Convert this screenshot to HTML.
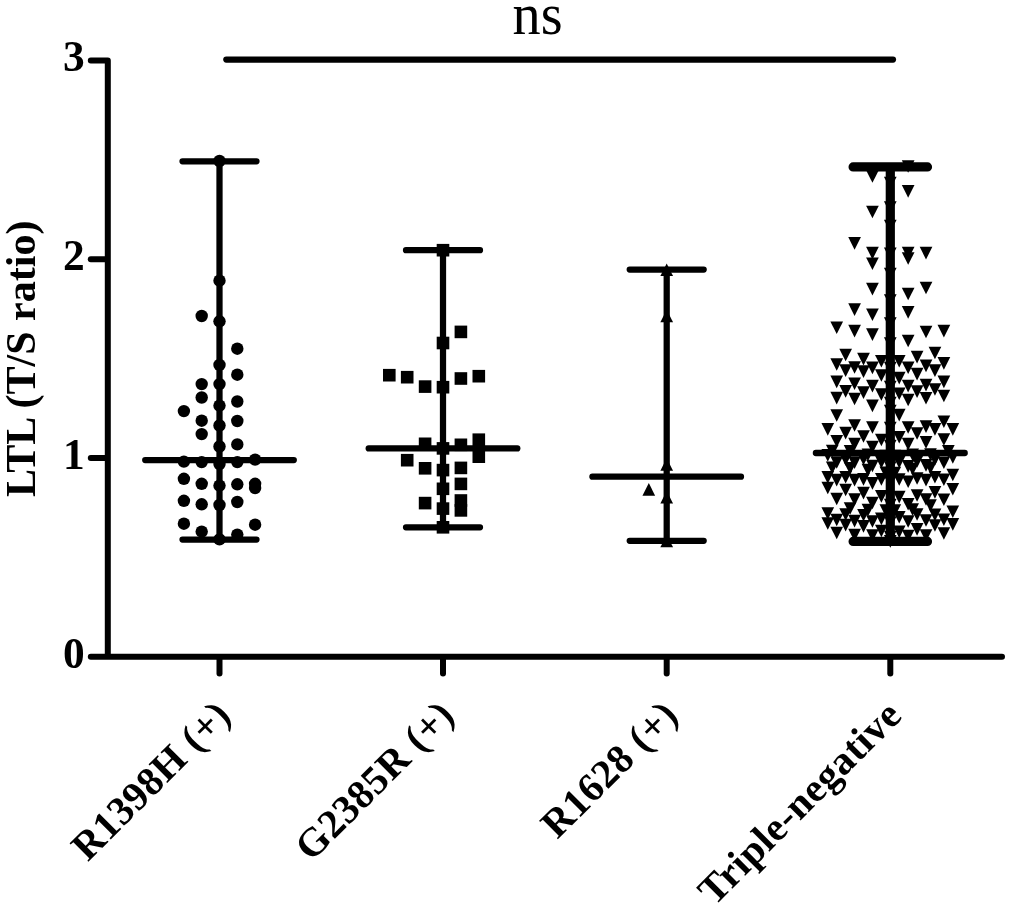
<!DOCTYPE html>
<html lang="en"><head><meta charset="utf-8"><title>LTL (T/S ratio)</title>
<style>html,body{margin:0;padding:0;background:#fff}body{width:1013px;height:911px;overflow:hidden}svg{display:block}text{font-family:"Liberation Serif","Times New Roman",serif;fill:#000}.b{font-weight:bold}</style></head><body>
<svg width="1013" height="911" viewBox="0 0 1013 911">
<rect width="1013" height="911" fill="#fff"/>
<g fill="none" stroke="#000" stroke-width="6" stroke-linecap="round" stroke-linejoin="round">
<path d="M90.8 60.45 H107.8 V654.8"/>
<path d="M90.8 656.8 H1002"/>
<path d="M90.8 458.0 H106"/>
<path d="M90.8 259.2 H106"/>
<path d="M219.5 657.8 V673.5"/>
<path d="M443.0 657.8 V673.5"/>
<path d="M666.7 657.8 V673.5"/>
<path d="M890.3 657.8 V673.5"/>
<path d="M226.3 59.6 H893" stroke-width="6.2"/>
</g>
<g fill="none" stroke="#000" stroke-linecap="round">
<path d="M219.5 161.3 V539.5" stroke-width="6.25" stroke-linecap="butt"/>
<path d="M182.5 161.3 H256.5 M182.5 539.5 H256.5" stroke-width="6.25"/>
<path d="M145.2 460.1 H293.8" stroke-width="6.25"/>
</g>
<g fill="none" stroke="#000" stroke-linecap="round">
<path d="M443.0 250.2 V527.3" stroke-width="6.25" stroke-linecap="butt"/>
<path d="M406.0 250.2 H480.0 M406.0 527.3 H480.0" stroke-width="6.25"/>
<path d="M368.7 448.4 H517.3" stroke-width="6.25"/>
</g>
<g fill="none" stroke="#000" stroke-linecap="round">
<path d="M666.7 269.6 V540.8" stroke-width="6.25" stroke-linecap="butt"/>
<path d="M629.7 269.6 H703.7 M629.7 540.8 H703.7" stroke-width="6.25"/>
<path d="M592.4 476.7 H741.0" stroke-width="6.25"/>
</g>
<g fill="none" stroke="#000" stroke-linecap="round">
<path d="M890.3 166.9 V541.4" stroke-width="9.2" stroke-linecap="butt"/>
<path d="M853.1 166.9 H927.5 M853.1 541.4 H927.5" stroke-width="9.2"/>
<path d="M815.9 453 H964.7" stroke-width="6.3"/>
</g>
<g fill="#000">
<circle cx="219.5" cy="161.0" r="6.2"/>
<circle cx="219.5" cy="280.7" r="6.2"/>
<circle cx="219.5" cy="321.3" r="6.2"/>
<circle cx="219.5" cy="364.9" r="6.2"/>
<circle cx="219.5" cy="384.1" r="6.2"/>
<circle cx="219.5" cy="405.6" r="6.2"/>
<circle cx="219.5" cy="425.5" r="6.2"/>
<circle cx="219.5" cy="446.5" r="6.2"/>
<circle cx="219.5" cy="464.1" r="6.2"/>
<circle cx="219.5" cy="485.6" r="6.2"/>
<circle cx="219.5" cy="505.0" r="6.2"/>
<circle cx="219.5" cy="539.4" r="6.2"/>
<circle cx="237.3" cy="348.7" r="6.2"/>
<circle cx="237.3" cy="374.7" r="6.2"/>
<circle cx="237.3" cy="401.5" r="6.2"/>
<circle cx="237.3" cy="421.0" r="6.2"/>
<circle cx="237.3" cy="444.4" r="6.2"/>
<circle cx="237.3" cy="462.1" r="6.2"/>
<circle cx="237.3" cy="484.3" r="6.2"/>
<circle cx="237.3" cy="502.0" r="6.2"/>
<circle cx="237.3" cy="534.6" r="6.2"/>
<circle cx="201.7" cy="316.0" r="6.2"/>
<circle cx="201.7" cy="384.1" r="6.2"/>
<circle cx="201.7" cy="397.5" r="6.2"/>
<circle cx="201.7" cy="420.7" r="6.2"/>
<circle cx="201.7" cy="434.1" r="6.2"/>
<circle cx="201.7" cy="462.1" r="6.2"/>
<circle cx="201.7" cy="483.8" r="6.2"/>
<circle cx="201.7" cy="504.3" r="6.2"/>
<circle cx="201.7" cy="531.6" r="6.2"/>
<circle cx="183.9" cy="411.1" r="6.2"/>
<circle cx="183.9" cy="461.6" r="6.2"/>
<circle cx="183.9" cy="478.8" r="6.2"/>
<circle cx="183.9" cy="500.8" r="6.2"/>
<circle cx="183.9" cy="523.7" r="6.2"/>
<circle cx="255.1" cy="459.6" r="6.2"/>
<circle cx="255.1" cy="483.8" r="6.2"/>
<circle cx="255.1" cy="488.1" r="6.2"/>
<circle cx="255.1" cy="524.7" r="6.2"/>
<rect x="436.7" y="243.9" width="12.6" height="12.6"/>
<rect x="454.6" y="325.6" width="12.6" height="12.6"/>
<rect x="436.7" y="336.7" width="12.6" height="12.6"/>
<rect x="383.0" y="368.9" width="12.6" height="12.6"/>
<rect x="400.9" y="370.9" width="12.6" height="12.6"/>
<rect x="418.8" y="380.3" width="12.6" height="12.6"/>
<rect x="436.7" y="380.9" width="12.6" height="12.6"/>
<rect x="454.6" y="372.2" width="12.6" height="12.6"/>
<rect x="472.5" y="369.9" width="12.6" height="12.6"/>
<rect x="418.8" y="437.5" width="12.6" height="12.6"/>
<rect x="436.7" y="442.1" width="12.6" height="12.6"/>
<rect x="454.6" y="438.5" width="12.6" height="12.6"/>
<rect x="472.5" y="433.4" width="12.6" height="12.6"/>
<rect x="472.5" y="450.4" width="12.6" height="12.6"/>
<rect x="400.9" y="453.9" width="12.6" height="12.6"/>
<rect x="418.8" y="462.0" width="12.6" height="12.6"/>
<rect x="436.7" y="463.8" width="12.6" height="12.6"/>
<rect x="454.6" y="461.6" width="12.6" height="12.6"/>
<rect x="436.7" y="482.5" width="12.6" height="12.6"/>
<rect x="454.6" y="477.6" width="12.6" height="12.6"/>
<rect x="418.8" y="496.8" width="12.6" height="12.6"/>
<rect x="436.7" y="502.3" width="12.6" height="12.6"/>
<rect x="454.6" y="494.2" width="12.6" height="12.6"/>
<rect x="454.6" y="504.1" width="12.6" height="12.6"/>
<rect x="436.7" y="521.0" width="12.6" height="12.6"/>
<path d="M666.7 263.5 l6.35 12.6 h-12.7 z"/>
<path d="M666.7 309.7 l6.35 12.6 h-12.7 z"/>
<path d="M666.7 458.2 l6.35 12.6 h-12.7 z"/>
<path d="M648.8 483.1 l6.35 12.6 h-12.7 z"/>
<path d="M666.7 491.0 l6.35 12.6 h-12.7 z"/>
<path d="M666.7 534.7 l6.35 12.6 h-12.7 z"/>
<path d="M901.81 160.25 h12.7 l-6.35 12.6 z"/>
<path d="M866.09 170.25 h12.7 l-6.35 12.6 z"/>
<path d="M883.95 176.75 h12.7 l-6.35 12.6 z"/>
<path d="M901.81 185.05 h12.7 l-6.35 12.6 z"/>
<path d="M883.95 201.35 h12.7 l-6.35 12.6 z"/>
<path d="M866.09 205.75 h12.7 l-6.35 12.6 z"/>
<path d="M883.95 219.75 h12.7 l-6.35 12.6 z"/>
<path d="M848.23 237.05 h12.7 l-6.35 12.6 z"/>
<path d="M866.09 246.85 h12.7 l-6.35 12.6 z"/>
<path d="M866.09 257.45 h12.7 l-6.35 12.6 z"/>
<path d="M901.81 246.85 h12.7 l-6.35 12.6 z"/>
<path d="M901.81 252.25 h12.7 l-6.35 12.6 z"/>
<path d="M919.67 246.85 h12.7 l-6.35 12.6 z"/>
<path d="M883.95 247.55 h12.7 l-6.35 12.6 z"/>
<path d="M883.95 267.75 h12.7 l-6.35 12.6 z"/>
<path d="M866.09 282.85 h12.7 l-6.35 12.6 z"/>
<path d="M919.67 281.75 h12.7 l-6.35 12.6 z"/>
<path d="M901.81 287.65 h12.7 l-6.35 12.6 z"/>
<path d="M883.95 294.25 h12.7 l-6.35 12.6 z"/>
<path d="M848.23 303.35 h12.7 l-6.35 12.6 z"/>
<path d="M866.09 308.45 h12.7 l-6.35 12.6 z"/>
<path d="M901.81 306.05 h12.7 l-6.35 12.6 z"/>
<path d="M883.95 317.15 h12.7 l-6.35 12.6 z"/>
<path d="M830.37 321.45 h12.7 l-6.35 12.6 z"/>
<path d="M848.23 324.85 h12.7 l-6.35 12.6 z"/>
<path d="M866.09 328.35 h12.7 l-6.35 12.6 z"/>
<path d="M919.67 325.65 h12.7 l-6.35 12.6 z"/>
<path d="M937.53 324.85 h12.7 l-6.35 12.6 z"/>
<path d="M901.81 334.65 h12.7 l-6.35 12.6 z"/>
<path d="M883.95 337.35 h12.7 l-6.35 12.6 z"/>
<path d="M839.30 348.75 h12.7 l-6.35 12.6 z"/>
<path d="M857.16 352.85 h12.7 l-6.35 12.6 z"/>
<path d="M875.02 354.95 h12.7 l-6.35 12.6 z"/>
<path d="M892.88 354.95 h12.7 l-6.35 12.6 z"/>
<path d="M910.74 350.85 h12.7 l-6.35 12.6 z"/>
<path d="M928.60 346.65 h12.7 l-6.35 12.6 z"/>
<path d="M830.37 358.15 h12.7 l-6.35 12.6 z"/>
<path d="M937.53 357.05 h12.7 l-6.35 12.6 z"/>
<path d="M848.23 361.15 h12.7 l-6.35 12.6 z"/>
<path d="M866.09 361.55 h12.7 l-6.35 12.6 z"/>
<path d="M901.81 361.45 h12.7 l-6.35 12.6 z"/>
<path d="M919.67 359.55 h12.7 l-6.35 12.6 z"/>
<path d="M883.95 361.75 h12.7 l-6.35 12.6 z"/>
<path d="M839.30 364.35 h12.7 l-6.35 12.6 z"/>
<path d="M928.60 364.35 h12.7 l-6.35 12.6 z"/>
<path d="M857.16 365.35 h12.7 l-6.35 12.6 z"/>
<path d="M910.74 367.85 h12.7 l-6.35 12.6 z"/>
<path d="M875.02 369.15 h12.7 l-6.35 12.6 z"/>
<path d="M892.88 371.85 h12.7 l-6.35 12.6 z"/>
<path d="M830.37 375.55 h12.7 l-6.35 12.6 z"/>
<path d="M937.53 375.55 h12.7 l-6.35 12.6 z"/>
<path d="M848.23 377.45 h12.7 l-6.35 12.6 z"/>
<path d="M919.67 378.85 h12.7 l-6.35 12.6 z"/>
<path d="M866.09 379.85 h12.7 l-6.35 12.6 z"/>
<path d="M901.81 379.85 h12.7 l-6.35 12.6 z"/>
<path d="M883.95 380.75 h12.7 l-6.35 12.6 z"/>
<path d="M928.60 383.25 h12.7 l-6.35 12.6 z"/>
<path d="M839.30 385.05 h12.7 l-6.35 12.6 z"/>
<path d="M910.74 385.35 h12.7 l-6.35 12.6 z"/>
<path d="M857.16 386.35 h12.7 l-6.35 12.6 z"/>
<path d="M892.88 387.45 h12.7 l-6.35 12.6 z"/>
<path d="M875.02 388.15 h12.7 l-6.35 12.6 z"/>
<path d="M937.53 389.75 h12.7 l-6.35 12.6 z"/>
<path d="M830.37 391.85 h12.7 l-6.35 12.6 z"/>
<path d="M919.67 391.95 h12.7 l-6.35 12.6 z"/>
<path d="M848.23 392.65 h12.7 l-6.35 12.6 z"/>
<path d="M901.81 393.65 h12.7 l-6.35 12.6 z"/>
<path d="M866.09 399.55 h12.7 l-6.35 12.6 z"/>
<path d="M883.95 396.75 h12.7 l-6.35 12.6 z"/>
<path d="M892.88 408.85 h12.7 l-6.35 12.6 z"/>
<path d="M830.37 409.15 h12.7 l-6.35 12.6 z"/>
<path d="M883.95 404.75 h12.7 l-6.35 12.6 z"/>
<path d="M937.53 415.45 h12.7 l-6.35 12.6 z"/>
<path d="M848.23 419.25 h12.7 l-6.35 12.6 z"/>
<path d="M919.67 420.35 h12.7 l-6.35 12.6 z"/>
<path d="M866.09 421.25 h12.7 l-6.35 12.6 z"/>
<path d="M901.81 421.25 h12.7 l-6.35 12.6 z"/>
<path d="M883.95 421.75 h12.7 l-6.35 12.6 z"/>
<path d="M821.44 423.05 h12.7 l-6.35 12.6 z"/>
<path d="M946.46 423.05 h12.7 l-6.35 12.6 z"/>
<path d="M928.60 423.05 h12.7 l-6.35 12.6 z"/>
<path d="M839.30 426.85 h12.7 l-6.35 12.6 z"/>
<path d="M910.74 427.25 h12.7 l-6.35 12.6 z"/>
<path d="M857.16 430.25 h12.7 l-6.35 12.6 z"/>
<path d="M892.88 430.95 h12.7 l-6.35 12.6 z"/>
<path d="M875.02 433.75 h12.7 l-6.35 12.6 z"/>
<path d="M830.37 434.95 h12.7 l-6.35 12.6 z"/>
<path d="M937.53 433.25 h12.7 l-6.35 12.6 z"/>
<path d="M919.67 436.05 h12.7 l-6.35 12.6 z"/>
<path d="M848.23 437.85 h12.7 l-6.35 12.6 z"/>
<path d="M901.81 437.85 h12.7 l-6.35 12.6 z"/>
<path d="M866.09 440.85 h12.7 l-6.35 12.6 z"/>
<path d="M883.95 439.75 h12.7 l-6.35 12.6 z"/>
<path d="M825.90 444.65 h12.7 l-6.35 12.6 z"/>
<path d="M843.76 445.05 h12.7 l-6.35 12.6 z"/>
<path d="M861.62 448.55 h12.7 l-6.35 12.6 z"/>
<path d="M879.48 449.75 h12.7 l-6.35 12.6 z"/>
<path d="M941.99 445.05 h12.7 l-6.35 12.6 z"/>
<path d="M924.13 448.15 h12.7 l-6.35 12.6 z"/>
<path d="M906.27 448.55 h12.7 l-6.35 12.6 z"/>
<path d="M888.41 449.75 h12.7 l-6.35 12.6 z"/>
<path d="M821.44 449.05 h12.7 l-6.35 12.6 z"/>
<path d="M839.30 453.15 h12.7 l-6.35 12.6 z"/>
<path d="M857.16 452.75 h12.7 l-6.35 12.6 z"/>
<path d="M875.02 455.85 h12.7 l-6.35 12.6 z"/>
<path d="M892.88 455.85 h12.7 l-6.35 12.6 z"/>
<path d="M910.74 455.25 h12.7 l-6.35 12.6 z"/>
<path d="M928.60 453.25 h12.7 l-6.35 12.6 z"/>
<path d="M946.46 451.05 h12.7 l-6.35 12.6 z"/>
<path d="M830.37 456.25 h12.7 l-6.35 12.6 z"/>
<path d="M848.23 456.35 h12.7 l-6.35 12.6 z"/>
<path d="M866.09 459.65 h12.7 l-6.35 12.6 z"/>
<path d="M883.95 461.25 h12.7 l-6.35 12.6 z"/>
<path d="M901.81 460.05 h12.7 l-6.35 12.6 z"/>
<path d="M919.67 459.05 h12.7 l-6.35 12.6 z"/>
<path d="M937.53 456.45 h12.7 l-6.35 12.6 z"/>
<path d="M825.90 461.45 h12.7 l-6.35 12.6 z"/>
<path d="M843.76 461.95 h12.7 l-6.35 12.6 z"/>
<path d="M861.62 463.85 h12.7 l-6.35 12.6 z"/>
<path d="M879.48 466.45 h12.7 l-6.35 12.6 z"/>
<path d="M888.41 466.75 h12.7 l-6.35 12.6 z"/>
<path d="M906.27 462.75 h12.7 l-6.35 12.6 z"/>
<path d="M924.13 461.55 h12.7 l-6.35 12.6 z"/>
<path d="M821.44 471.05 h12.7 l-6.35 12.6 z"/>
<path d="M839.30 470.95 h12.7 l-6.35 12.6 z"/>
<path d="M857.16 473.05 h12.7 l-6.35 12.6 z"/>
<path d="M875.02 473.05 h12.7 l-6.35 12.6 z"/>
<path d="M892.88 473.25 h12.7 l-6.35 12.6 z"/>
<path d="M910.74 472.15 h12.7 l-6.35 12.6 z"/>
<path d="M928.60 470.95 h12.7 l-6.35 12.6 z"/>
<path d="M946.46 468.75 h12.7 l-6.35 12.6 z"/>
<path d="M830.37 473.85 h12.7 l-6.35 12.6 z"/>
<path d="M848.23 473.85 h12.7 l-6.35 12.6 z"/>
<path d="M866.09 477.05 h12.7 l-6.35 12.6 z"/>
<path d="M883.95 475.25 h12.7 l-6.35 12.6 z"/>
<path d="M901.81 475.45 h12.7 l-6.35 12.6 z"/>
<path d="M919.67 473.85 h12.7 l-6.35 12.6 z"/>
<path d="M937.53 473.45 h12.7 l-6.35 12.6 z"/>
<path d="M821.44 481.75 h12.7 l-6.35 12.6 z"/>
<path d="M839.30 483.75 h12.7 l-6.35 12.6 z"/>
<path d="M857.16 486.85 h12.7 l-6.35 12.6 z"/>
<path d="M875.02 490.05 h12.7 l-6.35 12.6 z"/>
<path d="M892.88 490.85 h12.7 l-6.35 12.6 z"/>
<path d="M910.74 489.25 h12.7 l-6.35 12.6 z"/>
<path d="M928.60 486.05 h12.7 l-6.35 12.6 z"/>
<path d="M946.46 482.95 h12.7 l-6.35 12.6 z"/>
<path d="M830.37 492.75 h12.7 l-6.35 12.6 z"/>
<path d="M848.23 493.15 h12.7 l-6.35 12.6 z"/>
<path d="M866.09 496.75 h12.7 l-6.35 12.6 z"/>
<path d="M883.95 498.75 h12.7 l-6.35 12.6 z"/>
<path d="M901.81 497.95 h12.7 l-6.35 12.6 z"/>
<path d="M919.67 493.15 h12.7 l-6.35 12.6 z"/>
<path d="M937.53 493.45 h12.7 l-6.35 12.6 z"/>
<path d="M843.76 502.25 h12.7 l-6.35 12.6 z"/>
<path d="M861.62 503.85 h12.7 l-6.35 12.6 z"/>
<path d="M879.48 504.25 h12.7 l-6.35 12.6 z"/>
<path d="M888.41 504.25 h12.7 l-6.35 12.6 z"/>
<path d="M906.27 503.35 h12.7 l-6.35 12.6 z"/>
<path d="M924.13 499.35 h12.7 l-6.35 12.6 z"/>
<path d="M821.44 507.25 h12.7 l-6.35 12.6 z"/>
<path d="M839.30 508.15 h12.7 l-6.35 12.6 z"/>
<path d="M857.16 508.95 h12.7 l-6.35 12.6 z"/>
<path d="M875.02 512.55 h12.7 l-6.35 12.6 z"/>
<path d="M892.88 510.95 h12.7 l-6.35 12.6 z"/>
<path d="M910.74 508.15 h12.7 l-6.35 12.6 z"/>
<path d="M928.60 508.55 h12.7 l-6.35 12.6 z"/>
<path d="M946.46 505.45 h12.7 l-6.35 12.6 z"/>
<path d="M830.37 513.75 h12.7 l-6.35 12.6 z"/>
<path d="M848.23 514.85 h12.7 l-6.35 12.6 z"/>
<path d="M866.09 515.25 h12.7 l-6.35 12.6 z"/>
<path d="M883.95 516.25 h12.7 l-6.35 12.6 z"/>
<path d="M901.81 515.15 h12.7 l-6.35 12.6 z"/>
<path d="M919.67 514.15 h12.7 l-6.35 12.6 z"/>
<path d="M937.53 513.45 h12.7 l-6.35 12.6 z"/>
<path d="M821.44 517.25 h12.7 l-6.35 12.6 z"/>
<path d="M839.30 518.85 h12.7 l-6.35 12.6 z"/>
<path d="M857.16 520.05 h12.7 l-6.35 12.6 z"/>
<path d="M875.02 524.75 h12.7 l-6.35 12.6 z"/>
<path d="M892.88 525.55 h12.7 l-6.35 12.6 z"/>
<path d="M910.74 523.05 h12.7 l-6.35 12.6 z"/>
<path d="M928.60 519.25 h12.7 l-6.35 12.6 z"/>
<path d="M946.46 518.05 h12.7 l-6.35 12.6 z"/>
<path d="M830.37 526.75 h12.7 l-6.35 12.6 z"/>
<path d="M848.23 528.85 h12.7 l-6.35 12.6 z"/>
<path d="M866.09 529.25 h12.7 l-6.35 12.6 z"/>
<path d="M883.95 530.75 h12.7 l-6.35 12.6 z"/>
<path d="M901.81 529.85 h12.7 l-6.35 12.6 z"/>
<path d="M919.67 529.15 h12.7 l-6.35 12.6 z"/>
<path d="M937.53 527.15 h12.7 l-6.35 12.6 z"/>
<path d="M883.95 535.05 h12.7 l-6.35 12.6 z"/>
</g>
<g class="b" font-size="43.4" text-anchor="end">
<text x="84.6" y="667.7">0</text>
<text x="84.6" y="468.9">1</text>
<text x="84.6" y="270.1">2</text>
<text x="84.6" y="71.4">3</text>
</g>
<text transform="translate(537.6 34.3) scale(0.946 1)" font-size="59.5" text-anchor="middle">ns</text>
<text class="b" font-size="42.05" text-anchor="middle" transform="translate(35.1 358.8) rotate(-90)">LTL (T/S ratio)</text>
<g class="b" font-size="40.3" letter-spacing="0.45" text-anchor="end">
<text transform="translate(232.9 717.3) rotate(-45)">R1398H (+)</text>
<text transform="translate(456.4 717.3) rotate(-45)">G2385R (+)</text>
<text transform="translate(680.1 717.3) rotate(-45)">R1628 (+)</text>
<text transform="translate(903.7 717.3) rotate(-45)">Triple-negative</text>
</g>
</svg></body></html>
